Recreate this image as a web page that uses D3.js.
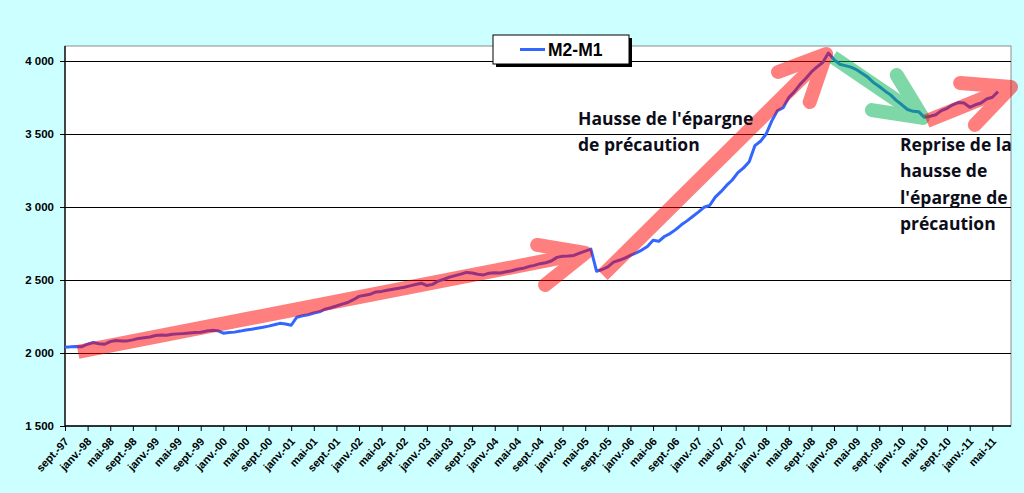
<!DOCTYPE html>
<html><head><meta charset="utf-8">
<script src="https://cdn.jsdelivr.net/npm/d3@7"></script>
<style>
html,body{margin:0;padding:0;background:#ccffff;}
svg{display:block;}
</style></head>
<body>
<svg id="chart" width="1024" height="493"></svg>
<script>
// ---- data (monthly, index 0 = sept. 1997) ----
const seriesName = "M2-M1";
const values = [
 2040,2042,2045,2043,2060,2072,2064,2060,2078,2086,2082,2083,
 2090,2100,2105,2110,2120,2124,2122,2128,2131,2133,2137,2140,
 2142,2150,2155,2153,2136,2140,2143,2150,2158,2163,2170,2176,
 2184,2193,2203,2199,2190,2245,2255,2262,2274,2282,2300,2310,
 2322,2335,2346,2365,2388,2395,2403,2418,2422,2430,2437,2443,
 2450,2460,2469,2478,2462,2470,2492,2505,2520,2530,2540,2552,
 2548,2540,2535,2546,2550,2548,2556,2563,2574,2580,2592,2600,
 2612,2618,2630,2655,2662,2664,2668,2684,2698,2712,2560,2572,
 2590,2622,2635,2650,2668,2685,2705,2730,2772,2765,2798,2818,
 2845,2878,2905,2935,2965,2998,3010,3068,3105,3148,3185,3235,
 3268,3310,3420,3450,3500,3590,3660,3680,3750,3790,3840,3880,
 3925,3960,3990,4055,4010,3978,3968,3958,3940,3915,3888,3852,
 3825,3795,3768,3730,3700,3668,3655,3652,3614,3622,3632,3660,
 3676,3700,3715,3712,3683,3700,3712,3740,3752,3790
];
const xTickLabels = ["sept.-97","janv.-98","mai-98","sept.-98","janv.-99","mai-99","sept.-99","janv.-00","mai-00","sept.-00","janv.-01","mai-01","sept.-01","janv.-02","mai-02","sept.-02","janv.-03","mai-03","sept.-03","janv.-04","mai-04","sept.-04","janv.-05","mai-05","sept.-05","janv.-06","mai-06","sept.-06","janv.-07","mai-07","sept.-07","janv.-08","mai-08","sept.-08","janv.-09","mai-09","sept.-09","janv.-10","mai-10","sept.-10","janv.-11","mai-11"];
const yTicks = [1500,2000,2500,3000,3500,4000];
// annotation arrows in data space: [monthIndex, value]
const arrowRise1   = {start:[2.3,2007],  tip:[92.0,2685],  barbs:[[83.5,2740],[84.9,2466]]};
const arrowRise2   = {start:[95.1,2534], tip:[134.6,4048], barbs:[[126.1,3925],[131.7,3719]]};
const arrowFall    = {start:[135.8,4027],tip:[151.7,3610], barbs:[[147.1,3904],[142.7,3664]]};
const arrowRise3   = {start:[152.4,3589],tip:[167.3,3822], barbs:[[158.3,3849],[160.9,3562]]};
const note1 = ["Hausse de l'épargne","de précaution"];
const note2 = ["Reprise de la","hausse de","l'épargne de","précaution"];

// ---- layout ----
const L=65, R=1011, T=46, B=426;
const svg = d3.select("#chart");
const x = d3.scaleLinear().domain([0,167.3]).range([L,R]);
const y = d3.scaleLinear().domain([1500,4000]).range([B,61]);

svg.append("rect").attr("x",L).attr("y",T).attr("width",R-L).attr("height",B-T)
  .attr("fill","#fff").attr("stroke","#8c8c8c").attr("stroke-width",1);

// gridlines
svg.append("g").selectAll("line").data(yTicks.filter(d=>d>1500)).join("line")
  .attr("x1",L).attr("x2",R).attr("y1",d=>y(d)+0.5).attr("y2",d=>y(d)+0.5)
  .attr("stroke","#000").attr("stroke-width",1);

// y axis
const yAxis = d3.axisLeft(y).tickValues(yTicks).tickSize(5).tickPadding(6)
  .tickFormat(d=>d3.format(",")(d).replace(",", " "));
const gy = svg.append("g").attr("transform",`translate(${L},0)`).call(yAxis);
gy.select(".domain").attr("d",`M0,${T}V${B}`).attr("stroke","#000").attr("stroke-width",1.3);
gy.selectAll(".tick line").attr("stroke","#000");
gy.selectAll("text").attr("font-family","Liberation Sans, Arial, sans-serif")
  .attr("font-weight","bold").attr("font-size",11.5).attr("fill","#000");

// x axis
const xAxis = d3.axisBottom(x).tickValues(xTickLabels.map((d,i)=>i*4)).tickSize(5)
  .tickFormat((d,i)=>xTickLabels[i]);
const gx = svg.append("g").attr("transform",`translate(0,${B})`).call(xAxis);
gx.select(".domain").attr("d",`M${L},0H${R}`).attr("stroke","#000").attr("stroke-width",1.3);
gx.selectAll(".tick line").attr("stroke","#000");
gx.selectAll("text").attr("font-family","Liberation Sans, Arial, sans-serif")
  .attr("font-weight","bold").attr("font-size",11).attr("fill","#000")
  .attr("text-anchor","end").attr("dy",null).attr("y",0)
  .attr("transform","translate(4,16) rotate(-47)");

// line
const line = d3.line().x((d,i)=>x(i)).y(d=>y(d));
svg.append("path").datum(values).attr("d",line).attr("fill","none")
  .attr("stroke","#3366ff").attr("stroke-width",3).attr("stroke-linejoin","round");

// arrows
function drawArrow(a,color,op){
  const g = svg.append("g").attr("opacity",op);
  g.append("line").attr("x1",x(a.start[0])).attr("y1",y(a.start[1]))
    .attr("x2",x(a.tip[0])).attr("y2",y(a.tip[1]))
    .attr("stroke",color).attr("stroke-width",14).attr("stroke-linecap","butt");
  const hp = d3.path();
  hp.moveTo(x(a.barbs[0][0]),y(a.barbs[0][1]));
  hp.lineTo(x(a.tip[0]),y(a.tip[1]));
  hp.lineTo(x(a.barbs[1][0]),y(a.barbs[1][1]));
  g.append("path").attr("d",hp.toString()).attr("fill","none").attr("stroke",color)
    .attr("stroke-width",14).attr("stroke-linecap","round").attr("stroke-linejoin","round");
}
drawArrow(arrowRise1,"#ff0000",0.5);
drawArrow(arrowRise2,"#ff0000",0.5);
drawArrow(arrowFall,"#00b050",0.5);
drawArrow(arrowRise3,"#ff0000",0.5);

// notes
function note(lines,x0,y0){
  const t = svg.append("text").attr("font-family","Open Sans, sans-serif").attr("font-weight",700)
    .attr("font-size",17.5).attr("fill","#0d0d1a");
  lines.forEach((s,i)=>t.append("tspan").attr("x",x0).attr("y",y0+i*26.4).text(s));
}
note(note1,578,125);
note(note2,900,151);

// legend
const lg = svg.append("g");
lg.append("rect").attr("x",496).attr("y",38).attr("width",136).attr("height",29).attr("fill","#000");
lg.append("rect").attr("x",493).attr("y",35).attr("width",136).attr("height",29).attr("fill","#fff").attr("stroke","#000");
lg.append("line").attr("x1",520).attr("x2",545).attr("y1",49.5).attr("y2",49.5).attr("stroke","#3366ff").attr("stroke-width",3);
lg.append("text").attr("x",548).attr("y",56).attr("font-family","Liberation Sans, Arial, sans-serif")
  .attr("font-weight","bold").attr("font-size",17.5).attr("fill","#000").text(seriesName);
</script>
</body></html>
